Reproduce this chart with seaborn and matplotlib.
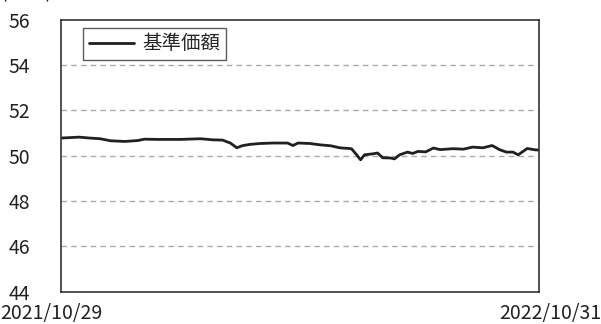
import pandas as pd
import matplotlib
matplotlib.use("Agg")
import matplotlib.pyplot as plt
import matplotlib.transforms as mtransforms
import seaborn as sns

# --- data ---
dates = ["2021-10-29", "2021-11-12", "2021-11-20", "2021-11-28", "2021-12-06",
         "2021-12-17", "2021-12-27", "2022-01-01", "2022-01-11", "2022-01-29",
         "2022-02-13", "2022-02-23", "2022-03-02", "2022-03-08", "2022-03-13",
         "2022-03-17", "2022-03-23", "2022-03-31", "2022-04-10", "2022-04-21",
         "2022-04-25", "2022-04-29", "2022-05-08", "2022-05-16", "2022-05-24",
         "2022-05-31", "2022-06-09", "2022-06-13", "2022-06-16", "2022-06-19",
         "2022-06-25", "2022-06-29", "2022-07-03", "2022-07-09", "2022-07-12",
         "2022-07-16", "2022-07-22", "2022-07-26", "2022-07-30", "2022-08-05",
         "2022-08-11", "2022-08-16", "2022-08-26", "2022-09-03", "2022-09-10",
         "2022-09-18", "2022-09-25", "2022-10-01", "2022-10-06", "2022-10-11",
         "2022-10-15", "2022-10-22", "2022-10-28", "2022-10-31"]
nav = [50.77, 50.81, 50.77, 50.74, 50.65,
       50.62, 50.66, 50.72, 50.71, 50.71,
       50.74, 50.69, 50.68, 50.55, 50.34,
       50.43, 50.49, 50.53, 50.55, 50.55,
       50.44, 50.55, 50.53, 50.47, 50.43,
       50.34, 50.30, 50.03, 49.81, 50.03,
       50.07, 50.11, 49.90, 49.89, 49.85,
       50.03, 50.15, 50.09, 50.18, 50.16,
       50.33, 50.26, 50.30, 50.28, 50.37,
       50.34, 50.44, 50.25, 50.15, 50.15,
       50.03, 50.31, 50.25, 50.24]
series_name = "基準価額"
unit_label = "(千円)"
y_ticks = [44, 46, 48, 50, 52, 54, 56]
x_labels = ["2021/10/29", "2022/10/31"]

df = pd.DataFrame({"date": pd.to_datetime(dates), "value": nav})

sns.set_style("white")
plt.rcParams["font.family"] = ["Noto Sans CJK JP", "DejaVu Sans"]

fig = plt.figure(figsize=(6.01, 3.24), dpi=100)
ax = fig.add_axes([61 / 601, 1 - 291.5 / 324, 478 / 601, 272 / 324])

sns.lineplot(data=df, x="date", y="value", ax=ax, color="#231f20",
             linewidth=2.0, label=series_name)

ax.set_ylim(44, 56)
ax.set_yticks(y_ticks)
ax.set_xlim(df["date"].iloc[0], df["date"].iloc[-1])
ax.set_xlabel("")
ax.set_ylabel("")

# dashed grid lines on inner ticks only
for t in y_ticks[1:-1]:
    ax.axhline(t, color="#aaaaaa", linestyle=(0, (4, 3)), linewidth=1.0, zorder=0)

for s in ax.spines.values():
    s.set_color("#333333")
    s.set_linewidth(1.2)

ax.tick_params(axis="both", length=0, labelsize=14, colors="#222222")
ax.tick_params(axis="y", pad=22)
ax.tick_params(axis="x", pad=8)

ax.set_xticks([df["date"].iloc[0], df["date"].iloc[-1]])
ax.set_xticklabels(x_labels)
lbls = ax.get_xticklabels()
lbls[0].set_ha("left")
lbls[0].set_transform(lbls[0].get_transform() +
                      mtransforms.ScaledTranslation(-61 / 100, 0, fig.dpi_scale_trans))
lbls[1].set_ha("right")
lbls[1].set_transform(lbls[1].get_transform() +
                      mtransforms.ScaledTranslation(62 / 100, 0, fig.dpi_scale_trans))

leg = ax.legend(loc="upper left", bbox_to_anchor=(22 / 478, 1 - 8 / 272),
                frameon=True, fancybox=False, fontsize=14, handlelength=2.3,
                borderpad=0.3, handletextpad=0.45, borderaxespad=0)
leg.get_frame().set_edgecolor("#333333")
leg.get_frame().set_linewidth(1.0)

fig.text(0.0, 1 - 3 / 324, unit_label, fontsize=14, ha="left", va="bottom",
         color="#222222")

fig.savefig("out.png", dpi=100)
